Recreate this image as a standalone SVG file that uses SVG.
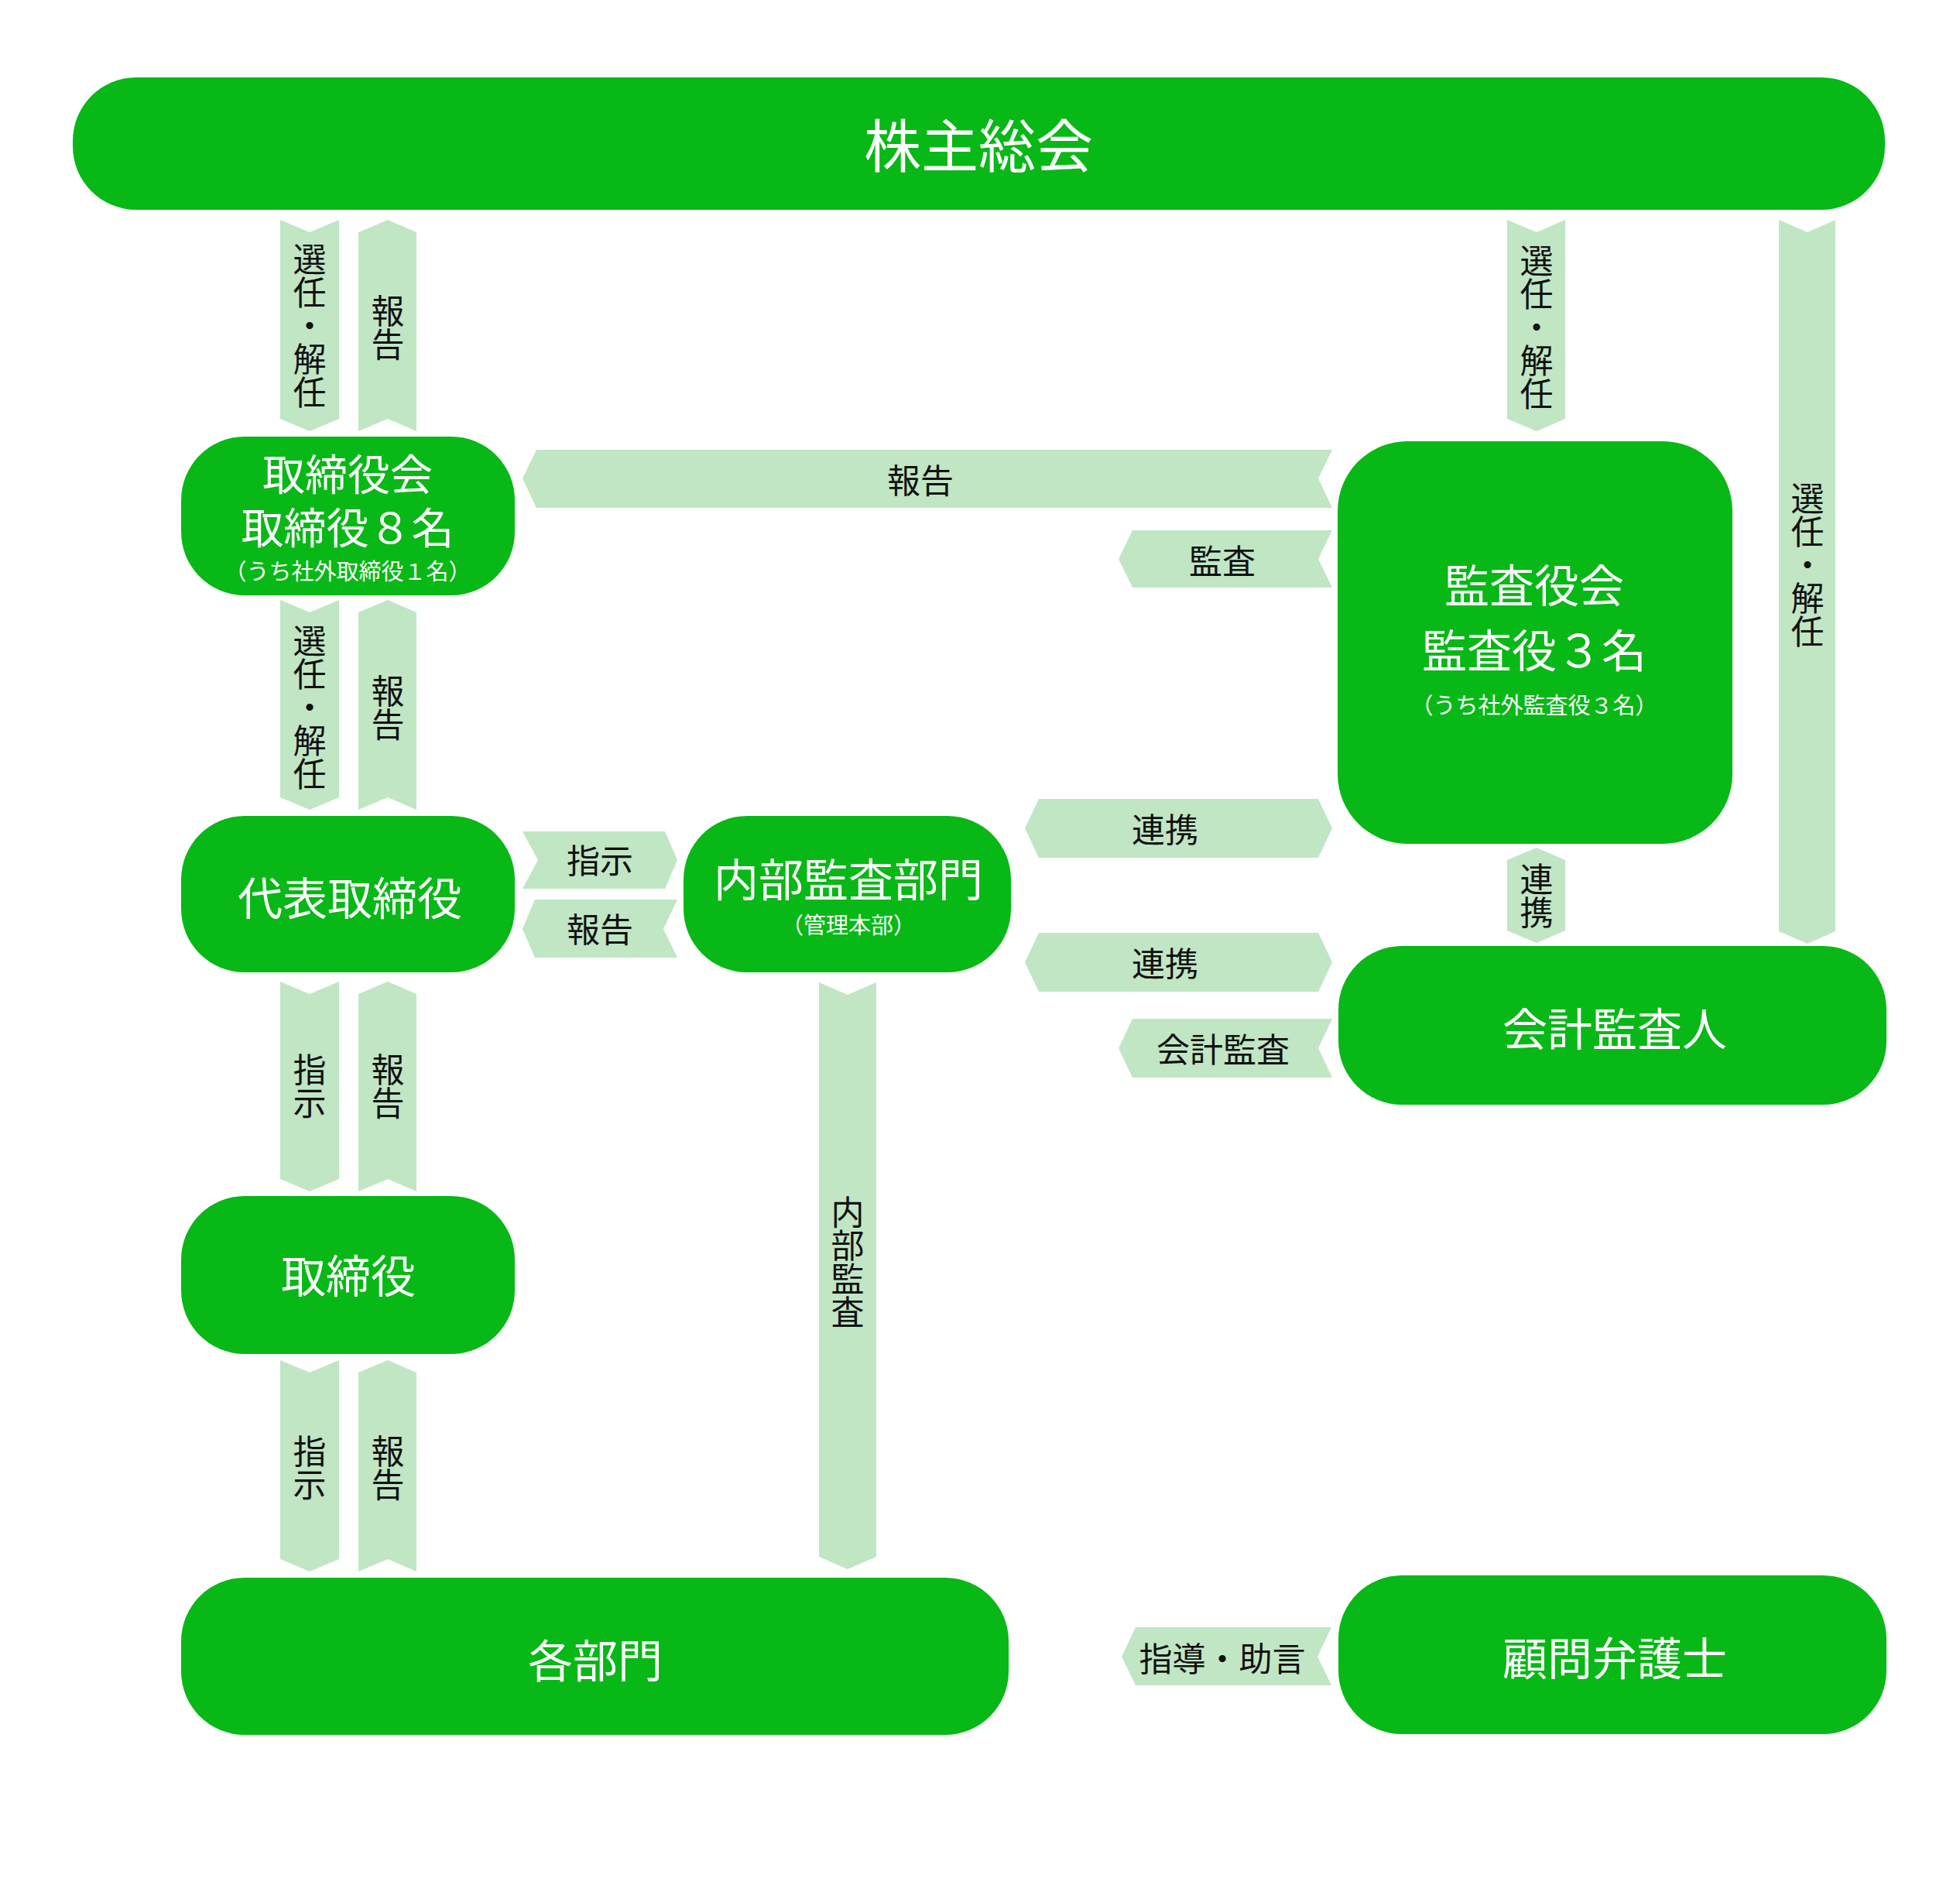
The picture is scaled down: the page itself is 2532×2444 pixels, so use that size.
<svg xmlns="http://www.w3.org/2000/svg" width="2532" height="2444" viewBox="0 0 2532 2444">
<style>
.node{fill:#08B816}
.arr{fill:#C0E6C4}
.nt{fill:#FFFFFF;font-family:"Noto Sans CJK JP","Noto Sans",sans-serif;text-anchor:middle;dominant-baseline:central}
.big{font-size:58px}
.b2{font-size:55px}
.top{font-size:74px}
.sub{font-size:29px}
.lt{fill:#111111;font-family:"Noto Sans CJK JP","Noto Sans",sans-serif;font-size:43px;text-anchor:middle;dominant-baseline:central}
.vt{writing-mode:vertical-rl;text-orientation:upright}
</style>
<rect width="2532" height="2444" fill="#FFFFFF"/>
<g id="connectors">
  <polygon class="arr" points="362,284 400,300 438,284 438,541 400,557 362,541"/>
  <polygon class="arr" points="463,300 501,284 538,300 538,557 501,541 463,557"/>
  <polygon class="arr" points="362,775 400,791 438,775 438,1030 400,1046 362,1030"/>
  <polygon class="arr" points="463,791 501,775 538,791 538,1046 501,1030 463,1046"/>
  <polygon class="arr" points="362,1268 400,1284 438,1268 438,1523 400,1539 362,1523"/>
  <polygon class="arr" points="463,1284 501,1268 538,1284 538,1539 501,1523 463,1539"/>
  <polygon class="arr" points="362,1757 400,1773 438,1757 438,2014 400,2030 362,2014"/>
  <polygon class="arr" points="463,1773 501,1757 538,1773 538,2030 501,2014 463,2030"/>
  <polygon class="arr" points="1058,1269 1095,1285 1132,1269 1132,2011 1095,2027 1058,2011"/>
  <polygon class="arr" points="675,1074 859,1074 875,1111 859,1148 675,1148 695,1111"/>
  <polygon class="arr" points="675,1200 691,1162 875,1162 857,1200 875,1237 691,1237"/>
  <polygon class="arr" points="675,618 693,581 1721,581 1703,618 1721,656 693,656"/>
  <polygon class="arr" points="1445,722 1463,685 1721,685 1703,722 1721,759 1463,759"/>
  <polygon class="arr" points="1324,1070 1342,1032 1703,1032 1721,1070 1703,1108 1342,1108"/>
  <polygon class="arr" points="1324,1243 1342,1205 1703,1205 1721,1243 1703,1281 1342,1281"/>
  <polygon class="arr" points="1445,1354 1463,1316 1721,1316 1703,1354 1721,1392 1463,1392"/>
  <polygon class="arr" points="1449,2140 1467,2102 1720,2102 1702,2140 1720,2177 1467,2177"/>
  <polygon class="arr" points="1947,284 1985,300 2022,284 2022,541 1985,557 1947,541"/>
  <polygon class="arr" points="2298,284 2335,300 2371,284 2371,1203 2335,1219 2298,1203"/>
  <polygon class="arr" points="1985,1095 2022,1111 2022,1202 1985,1218 1947,1202 1947,1111"/>

  <text class="lt vt" x="400" y="421">選任・解任</text>
  <text class="lt vt" x="501" y="423">報告</text>
  <text class="lt vt" x="400" y="914">選任・解任</text>
  <text class="lt vt" x="501" y="914">報告</text>
  <text class="lt vt" x="400" y="1403">指示</text>
  <text class="lt vt" x="501" y="1403">報告</text>
  <text class="lt vt" x="400" y="1896">指示</text>
  <text class="lt vt" x="501" y="1896">報告</text>
  <text class="lt vt" x="1095" y="1630">内部監査</text>
  <text class="lt vt" x="1985" y="423">選任・解任</text>
  <text class="lt vt" x="2335" y="730">選任・解任</text>
  <text class="lt vt" x="1985" y="1157">連携</text>
  <text class="lt" x="775" y="1109">指示</text>
  <text class="lt" x="775" y="1198">報告</text>
  <text class="lt" x="1189" y="618">報告</text>
  <text class="lt" x="1579" y="722">監査</text>
  <text class="lt" x="1505" y="1069">連携</text>
  <text class="lt" x="1505" y="1242">連携</text>
  <text class="lt" x="1580" y="1353">会計監査</text>
  <text class="lt" x="1579" y="2140">指導・助言</text>
</g>
<g id="node-shareholders">
  <rect class="node" x="94" y="100" width="2341" height="171" rx="82" ry="82"/>
  <text class="nt top" x="1264" y="183">株主総会</text>
</g>
<g id="node-board">
  <rect class="node" x="234" y="564" width="431" height="205" rx="82" ry="82"/>
  <text class="nt b2" x="449" y="609">取締役会</text>
  <text class="nt b2" x="449" y="678">取締役８名</text>
  <text class="nt sub" x="449" y="736">（うち社外取締役１名）</text>
</g>
<g id="node-representative">
  <rect class="node" x="234" y="1054" width="431" height="202" rx="82" ry="82"/>
  <text class="nt big" x="452" y="1157">代表取締役</text>
</g>
<g id="node-director">
  <rect class="node" x="234" y="1545" width="431" height="204" rx="82" ry="82"/>
  <text class="nt big" x="450" y="1645">取締役</text>
</g>
<g id="node-departments">
  <rect class="node" x="234" y="2038" width="1069" height="203" rx="82" ry="82"/>
  <text class="nt big" x="769" y="2142">各部門</text>
</g>
<g id="node-internal-audit">
  <rect class="node" x="883" y="1054" width="423" height="202" rx="82" ry="82"/>
  <text class="nt big" x="1096" y="1133">内部監査部門</text>
  <text class="nt sub" x="1096" y="1193">（管理本部）</text>
</g>
<g id="node-auditors">
  <rect class="node" x="1728" y="570" width="510" height="520" rx="90" ry="90"/>
  <text class="nt big" x="1982" y="753">監査役会</text>
  <text class="nt big" x="1982" y="837">監査役３名</text>
  <text class="nt sub" x="1982" y="909">（うち社外監査役３名）</text>
</g>
<g id="node-accounting-auditor">
  <rect class="node" x="1729" y="1222" width="708" height="205" rx="82" ry="82"/>
  <text class="nt big" x="2086" y="1326">会計監査人</text>
</g>
<g id="node-lawyer">
  <rect class="node" x="1729" y="2035" width="708" height="205" rx="82" ry="82"/>
  <text class="nt big" x="2086" y="2139">顧問弁護士</text>
</g>
</svg>
